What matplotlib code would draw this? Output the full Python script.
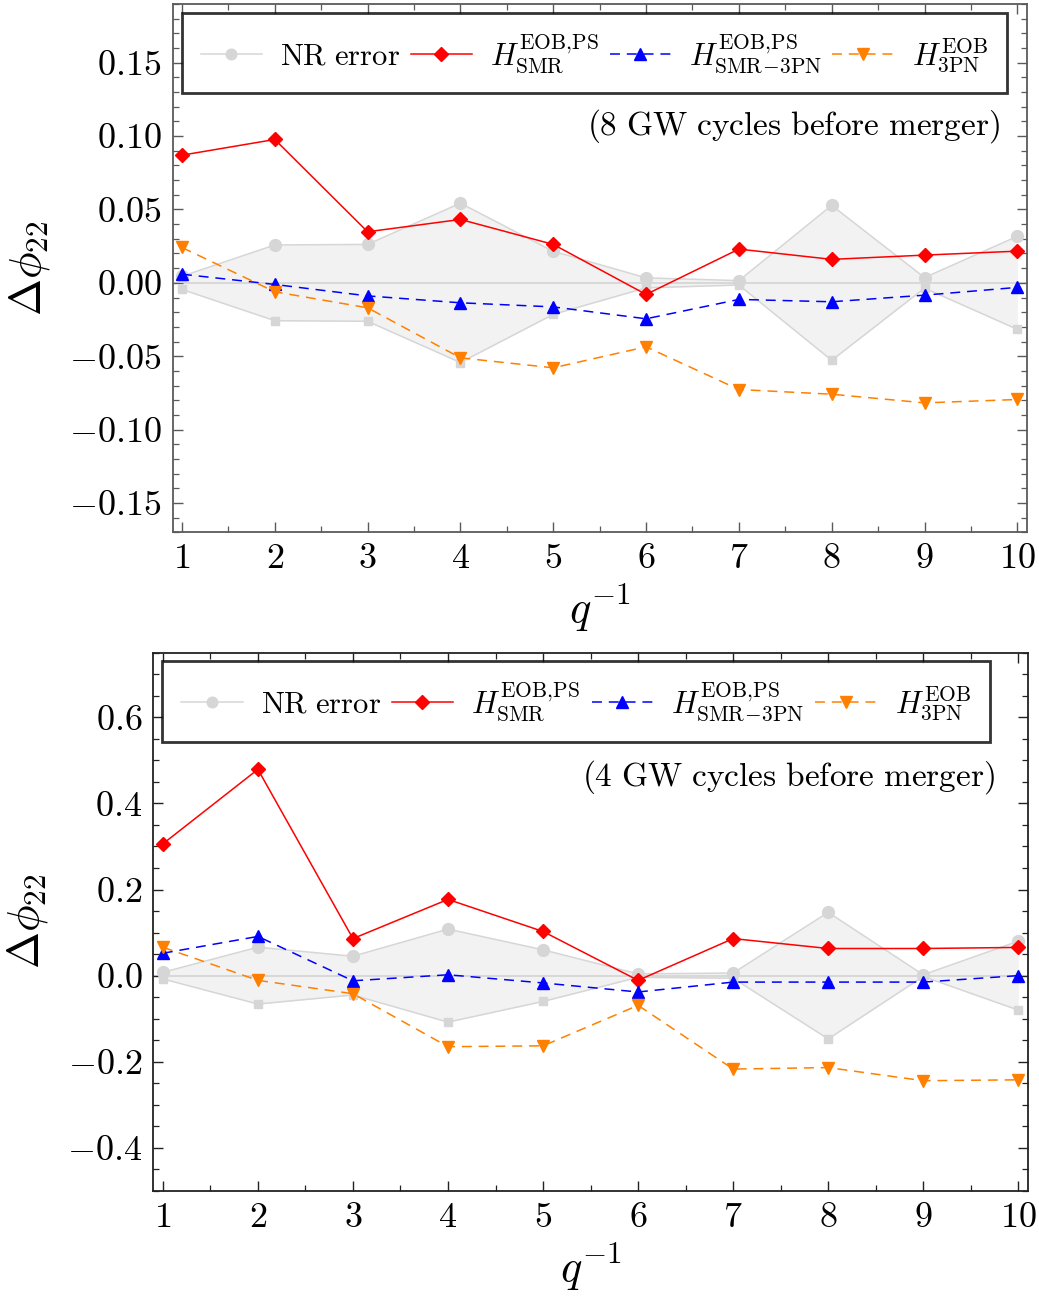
"""Phase difference of the (2,2) mode against NR for several EOB Hamiltonians."""

import matplotlib

matplotlib.use("Agg")
import matplotlib.pyplot as plt
import numpy as np
from matplotlib.ticker import FuncFormatter, MultipleLocator

plt.rcParams["mathtext.fontset"] = "cm"
plt.rcParams["font.family"] = "serif"
plt.rcParams["font.serif"] = ["cmr10", "DejaVu Serif"]
plt.rcParams["axes.formatter.use_mathtext"] = True

inv_q = [1, 2, 3, 4, 5, 6, 7, 8, 9, 10]

# 8 GW cycles before merger
nr_err_8 = [0.0045, 0.0258, 0.0262, 0.0543, 0.0215, 0.0034, 0.0015, 0.0528, 0.0036, 0.0317]
smr_8 = [0.0870, 0.0977, 0.0348, 0.0432, 0.0262, -0.0079, 0.0230, 0.0160, 0.0189, 0.0216]
smr3pn_8 = [0.0059, -0.0011, -0.0089, -0.0136, -0.0164, -0.0245, -0.0113, -0.0129, -0.0084, -0.0031]
eob3pn_8 = [0.0241, -0.0061, -0.0170, -0.0511, -0.0579, -0.0436, -0.0727, -0.0759, -0.0818, -0.0795]

# 4 GW cycles before merger
nr_err_4 = [0.0077, 0.066, 0.045, 0.108, 0.060, 0.004, 0.006, 0.147, 0.002, 0.080]
smr_4 = [0.306, 0.479, 0.086, 0.177, 0.1025, -0.011, 0.086, 0.063, 0.063, 0.0655]
smr3pn_4 = [0.052, 0.091, -0.012, 0.002, -0.017, -0.038, -0.015, -0.015, -0.015, 0.0]
eob3pn_4 = [0.066, -0.011, -0.042, -0.165, -0.163, -0.069, -0.217, -0.2135, -0.244, -0.242]

LABELS = [
    r"$\mathrm{NR\ error}$",
    r"$H^{\mathrm{EOB,\!PS}}_{\mathrm{SMR}}$",
    r"$H^{\mathrm{EOB,\!PS}}_{\mathrm{SMR}\!-\!\mathrm{3PN}}$",
    r"$H^{\mathrm{EOB}}_{\mathrm{3PN}}$",
]
NR_GRAY = "#d6d6d6"


def draw_panel(ax, nr_err, smr, smr3pn, eob3pn, ylim, major, minor, fmt, note, legend_box, note_pos, frame_color):
    x = np.array(inv_q)
    err = np.array(nr_err)
    ax.fill_between(x, -err, err, color="#f2f2f2", lw=0, zorder=1)
    ax.axhline(0, color=NR_GRAY, lw=1.3, zorder=1.5)
    (nr_line,) = ax.plot(x, err, "-o", color=NR_GRAY, ms=8.5, lw=1.1, zorder=2)
    ax.plot(x, -err, "-s", color=NR_GRAY, ms=6, lw=1.1, zorder=2)

    (l1,) = ax.plot(x, smr, "-D", color="#ff0000", ms=7.5, lw=1.1, zorder=3)
    (l2,) = ax.plot(x, smr3pn, "^", ls=(0, (6.5, 4.5)), color="#0000ff", ms=9, lw=1.1, zorder=4)
    (l3,) = ax.plot(x, eob3pn, "v", ls=(0, (6.5, 4.5)), color="#ff8000", ms=9, lw=1.1, zorder=5)

    ax.set_xlim(0.9, 10.1)
    ax.set_ylim(*ylim)
    ax.xaxis.set_major_locator(MultipleLocator(1))
    ax.xaxis.set_minor_locator(MultipleLocator(0.5))
    ax.yaxis.set_major_locator(MultipleLocator(major))
    ax.yaxis.set_minor_locator(MultipleLocator(minor))
    ax.yaxis.set_major_formatter(FuncFormatter(lambda v, p: f"${v:.{fmt}f}$"))
    ax.xaxis.set_major_formatter(FuncFormatter(lambda v, p: f"${int(round(v))}$"))
    ax.tick_params(which="both", direction="in", top=True, right=True, colors=frame_color, labelcolor="black")
    ax.tick_params(which="major", length=7, width=1.0, labelsize=26, pad=8)
    ax.tick_params(which="minor", length=4, width=0.9)
    for spine in ax.spines.values():
        spine.set_color(frame_color)
        spine.set_linewidth(1.3)

    ax.set_xlabel(r"$q^{-1}$", fontsize=32, labelpad=6)
    ax.set_ylabel(r"$\Delta\phi_{22}$", fontsize=32, labelpad=12)

    ax.text(note_pos[0], note_pos[1], note, transform=ax.transAxes, ha="right", va="center", fontsize=24)

    leg = ax.legend(
        [nr_line, l1, l2, l3],
        LABELS,
        loc="upper left",
        bbox_to_anchor=legend_box,
        mode="expand",
        ncol=4,
        fontsize=22,
        frameon=True,
        fancybox=False,
        edgecolor="black",
        borderaxespad=0,
        handlelength=2.0,
        handletextpad=0.6,
        columnspacing=0.6,
        borderpad=0.62,
        markerscale=0.9,
    )
    leg.get_frame().set_linewidth(2.0)
    leg.set_zorder(10)


fig = plt.figure(figsize=(10.39, 13.04), dpi=100)
ax_top = fig.add_axes([0.1662, 0.5918, 0.8219, 0.4051])
ax_bot = fig.add_axes([0.1476, 0.0867, 0.8416, 0.4128])

draw_panel(
    ax_top, nr_err_8, smr_8, smr3pn_8, eob3pn_8,
    ylim=(-0.17, 0.19), major=0.05, minor=0.01, fmt=2,
    note=r"$\mathrm{(8\ GW\ cycles\ before\ merger)}$",
    legend_box=(0.0109, 0.0, 0.966, 0.9835),
    note_pos=(0.9687, 0.769),
    frame_color="#5a5a5a",
)
draw_panel(
    ax_bot, nr_err_4, smr_4, smr3pn_4, eob3pn_4,
    ylim=(-0.5, 0.75), major=0.2, minor=0.05, fmt=1,
    note=r"$\mathrm{(4\ GW\ cycles\ before\ merger)}$",
    legend_box=(0.0104, 0.0, 0.946, 0.9846),
    note_pos=(0.9626, 0.769),
    frame_color="#222222",
)

fig.savefig("out.png", dpi=100)
plt.close(fig)
